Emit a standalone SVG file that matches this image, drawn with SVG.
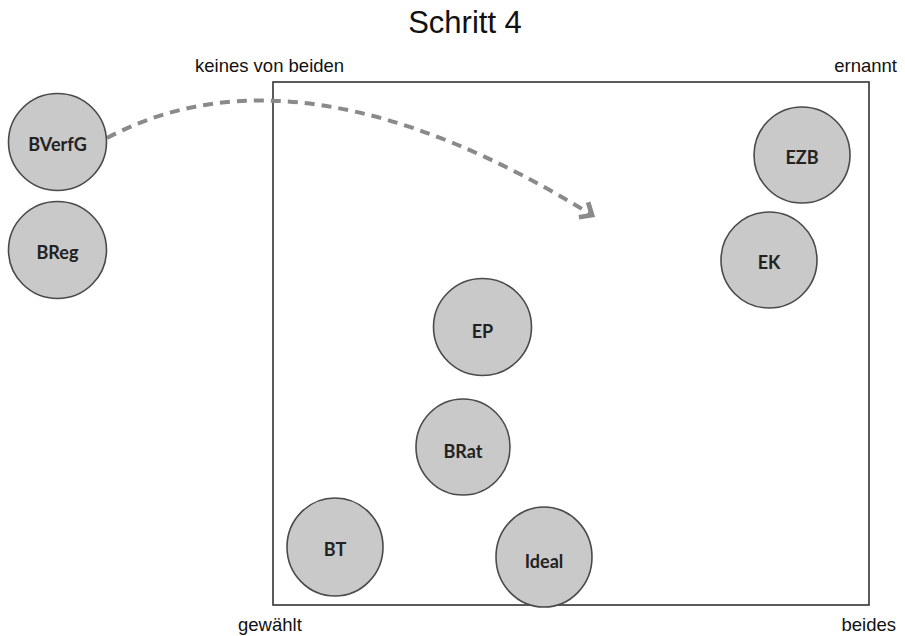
<svg xmlns="http://www.w3.org/2000/svg" width="905" height="636" viewBox="0 0 905 636">
<style>
.node{fill:#c9c9c9;stroke:#4a4a4a;stroke-width:1.6}
.lbl{font-family:Lato,"Liberation Sans",sans-serif;font-size:18px;font-weight:bold;fill:#222;text-anchor:middle;dominant-baseline:central}
.ax{font-family:"Liberation Sans",Arial,sans-serif;font-size:18.5px;fill:#111}
.title{font-family:"Liberation Sans",Arial,sans-serif;font-size:31px;fill:#111;text-anchor:middle}
.conn{fill:none;stroke:#8a8a8a;stroke-width:4;stroke-dasharray:10 7}
</style>
<defs>
<marker id="arr" markerWidth="6" markerHeight="6" refX="3" refY="3" orient="auto" markerUnits="strokeWidth">
<path d="M0.5,0.8 L3,3 L0.5,5.2" fill="none" stroke="#8a8a8a" stroke-width="1.2"/>
</marker>
</defs>
<rect width="905" height="636" fill="#fff"/>
<text class="title" x="465" y="33">Schritt 4</text>
<text class="ax" x="195" y="72">keines von beiden</text>
<text class="ax" x="897" y="72" text-anchor="end">ernannt</text>
<text class="ax" x="238" y="631">gewählt</text>
<text class="ax" x="896" y="631" text-anchor="end">beides</text>
<rect x="273" y="82" width="596" height="523" fill="none" stroke="#333" stroke-width="1.6"/>
<g id="connectors">
<path class="conn" d="M107,138 Q300,35 592,215" marker-end="url(#arr)"/>
</g>
<g id="BVerfG"><ellipse class="node" cx="57.5" cy="142" rx="49" ry="48.5"/><text class="lbl" x="57.5" y="144">BVerfG</text></g>
<g id="BReg"><ellipse class="node" cx="57.5" cy="250" rx="49" ry="48.5"/><text class="lbl" x="57.5" y="252">BReg</text></g>
<g id="EZB"><ellipse class="node" cx="802" cy="155" rx="48" ry="48"/><text class="lbl" x="802" y="157">EZB</text></g>
<g id="EK"><ellipse class="node" cx="769" cy="260" rx="48" ry="48"/><text class="lbl" x="769" y="262">EK</text></g>
<g id="EP"><ellipse class="node" cx="482.5" cy="327" rx="49" ry="48.5"/><text class="lbl" x="482.5" y="331">EP</text></g>
<g id="BRat"><ellipse class="node" cx="463" cy="447" rx="47" ry="48"/><text class="lbl" x="463" y="451">BRat</text></g>
<g id="BT"><ellipse class="node" cx="335" cy="547" rx="48" ry="49"/><text class="lbl" x="335" y="549">BT</text></g>
<g id="Ideal"><ellipse class="node" cx="544" cy="557" rx="48" ry="50"/><text class="lbl" x="544" y="561">Ideal</text></g>
</svg>
